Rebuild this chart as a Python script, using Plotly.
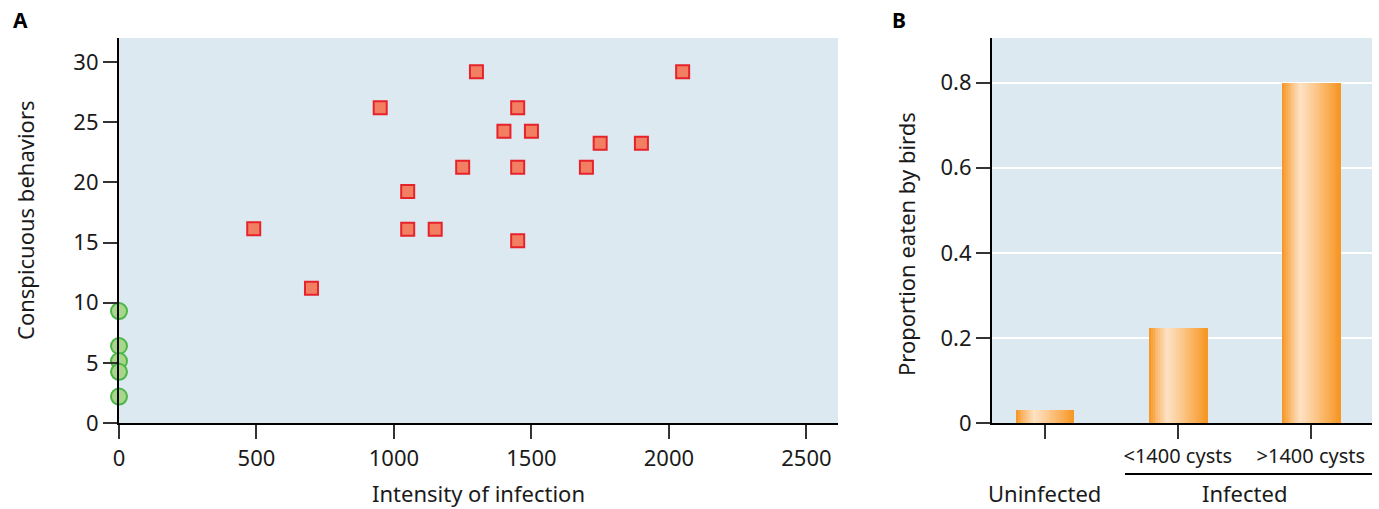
import plotly.graph_objects as go

# Panel A: conspicuous behaviours vs. intensity of infection
infected_x = [1300, 2050, 950, 1450, 1400, 1500, 1750, 1900, 1250, 1450, 1700,
              1050, 490, 1050, 1150, 1450, 700]
infected_y = [29.2, 29.2, 26.2, 26.2, 24.25, 24.25, 23.25, 23.25, 21.25, 21.25, 21.25,
              19.25, 16.15, 16.1, 16.1, 15.15, 11.2]
uninfected_x = [0, 0, 0, 0, 0]
uninfected_y = [9.3, 6.4, 5.15, 4.25, 2.2]

# Panel B: proportion eaten by birds
groups = ["Uninfected", "<1400 cysts", ">1400 cysts"]
proportion_eaten = [0.03, 0.223, 0.80]
group_ticktext = ["", "<1400 cysts", ">1400 cysts"]

W, H = 1379, 509
BG = "#dce9f0"
FONT = "Noto Sans"
TXT = "#1a1a1a"

def px_x(p):
    return p / W

def px_y(p):
    return 1 - p / H

fig = go.Figure()

fig.add_trace(go.Scatter(
    x=infected_x, y=infected_y, mode="markers", xaxis="x", yaxis="y",
    marker=dict(symbol="square", size=13, color="#f37f62",
                line=dict(color="#e6222a", width=2)),
    cliponaxis=False, showlegend=False))
fig.add_trace(go.Scatter(
    x=uninfected_x, y=uninfected_y, mode="markers", xaxis="x", yaxis="y",
    marker=dict(symbol="circle", size=16, color="#a9d68b",
                line=dict(color="#4cb748", width=2)),
    cliponaxis=False, showlegend=False))

# Bars with a horizontal light-to-orange sheen, built from thin vertical strips
bar_w = 0.436
n_strips = 30
dark = (247, 148, 30)
light = (254, 226, 196)
peak = 0.32
for k in range(n_strips):
    t = (k + 0.5) / n_strips
    if t <= peak:
        f = t / peak
    else:
        f = 1 - (t - peak) / (1 - peak)
    f = max(0.0, min(1.0, f)) ** 0.9
    c = tuple(int(round(dark[i] + (light[i] - dark[i]) * f)) for i in range(3))
    fig.add_trace(go.Bar(
        x=[0, 1, 2], y=proportion_eaten, xaxis="x2", yaxis="y2",
        width=bar_w / n_strips * 1.4,
        offset=-bar_w / 2 + k * bar_w / n_strips,
        marker=dict(color="rgb(%d,%d,%d)" % c, line=dict(width=0)),
        hoverinfo="skip", showlegend=False))

common_axis = dict(showline=True, linecolor="black", linewidth=2.2,
                   ticks="outside", ticklen=14, tickwidth=1.5, tickcolor="#333333",
                   zeroline=False, mirror=False, automargin=False)
font_a = dict(family=FONT, size=22, color=TXT)
font_b = dict(family=FONT, size=20, color=TXT)

fig.update_layout(
    width=W, height=H,
    margin=dict(l=0, r=0, t=0, b=0, autoexpand=False),
    paper_bgcolor="white",
    plot_bgcolor=BG,
    barmode="overlay",
    bargap=0,
    xaxis=dict(domain=[px_x(119), px_x(838)], range=[0, 2615],
               tickvals=[0, 500, 1000, 1500, 2000, 2500], showgrid=False,
               tickfont=font_a, anchor="y", **common_axis),
    yaxis=dict(domain=[px_y(423), px_y(38)], range=[0, 32],
               tickvals=[0, 5, 10, 15, 20, 25, 30], showgrid=False,
               tickfont=font_a, anchor="x", **common_axis),
    xaxis2=dict(domain=[px_x(992), px_x(1372)], range=[-0.396, 2.46],
                tickvals=[0, 1, 2], ticktext=group_ticktext, showgrid=False,
                tickfont=font_b, anchor="y2", **common_axis),
    yaxis2=dict(domain=[px_y(423), px_y(38)], range=[0, 0.905],
                tickvals=[0, 0.2, 0.4, 0.6, 0.8], ticktext=["0", "0.2", "0.4", "0.6", "0.8"],
                showgrid=True, gridcolor="white", gridwidth=2,
                tickfont=font_a, anchor="x2", **common_axis),
)

title_font = dict(family=FONT, size=22, color=TXT)


def label(text, x, y, xref="paper", angle=0, font=title_font):
    return dict(text=text, x=x, y=y, xref=xref, yref="paper", showarrow=False,
                xanchor="center", yanchor="middle", textangle=angle, font=font)


annotations = [
    label("<b>A</b>", px_x(20), px_y(20), font=dict(family=FONT, size=21, color="black")),
    label("<b>B</b>", px_x(899), px_y(20), font=dict(family=FONT, size=21, color="black")),
    label("Intensity of infection", px_x(478), px_y(493)),
    label("Conspicuous behaviors", px_x(25), px_y(220), angle=-90),
    label("Proportion eaten by birds", px_x(906), px_y(244), angle=-90),
    label(groups[0], 0, px_y(493), xref="x2"),
    label("Infected", 1.5, px_y(493), xref="x2"),
]
fig.update_layout(annotations=annotations)

fig.add_shape(type="line", xref="paper", yref="paper",
              x0=px_x(1125), x1=px_x(1372), y0=px_y(474), y1=px_y(474),
              line=dict(color="black", width=2))

fig.write_html("out.html")
